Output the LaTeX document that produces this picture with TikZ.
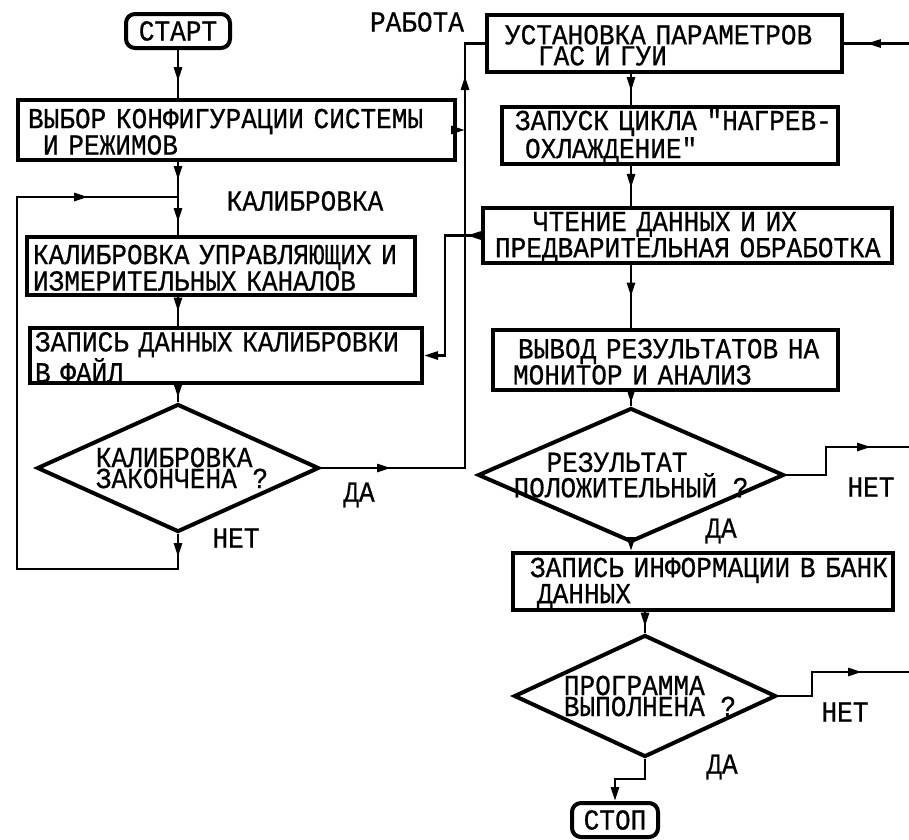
\documentclass[tikz,border=0pt]{standalone}
\usepackage{fontspec}
\setmainfont{Liberation Mono}[FakeStretch=0.9,FakeBold=0.6,Ligatures=TeXOff]
\usetikzlibrary{arrows.meta,shapes.geometric,decorations.markings}
\tikzset{
  blok/.style={draw, line width=4pt, inner sep=0pt, align=left, execute at begin node={\rule{0pt}{23pt}}},
  romb/.style={draw, diamond, line width=4pt, inner sep=-8pt, align=left, aspect=2.2},
  term/.style={draw, line width=4pt, rounded corners=9pt, inner sep=0pt},
  lin/.style={line width=2.6pt},
  pil/.style={postaction={decorate,decoration={markings,mark=at position #1 with {\arrow{>}}}}},
  pil/.default=0.6
}
\newcommand{\ot}[1]{\hspace*{#1pt}}
\begin{document}
\begin{tikzpicture}[x=1pt,y=-1pt,font=\fontsize{29}{21}\selectfont,>={Triangle[length=14pt,width=8pt]}]
  \useasboundingbox (0,0) rectangle (909,839);
  \coordinate (cL) at (178,0);
  \coordinate (cR) at (631,0);
  \coordinate (xV) at (465,0);
  \coordinate (xW) at (445,0);
  \coordinate (rand) at (909,0);
  \coordinate (J) at (178,197);
  \coordinate (n2) at (909,447);
  \coordinate (n3) at (909,672);
  \node[term, minimum width=104pt, minimum height=34pt] (S) at (178,31) {СТАРТ};
  \node[blok, text width=437pt, minimum height=60pt] (K) at (236.5,130) {\ot{10}ВЫБОР КОНФИГУРАЦИИ СИСТЕМЫ\\\ot{25}И РЕЖИМОВ};
  \node[blok, text width=388pt, minimum height=58pt] (C) at (221,266) {\ot{6}КАЛИБРОВКА УПРАВЛЯЮЩИХ И\\\ot{6}ИЗМЕРИТЕЛЬНЫХ КАНАЛОВ};
  \node[blok, text width=392pt, minimum height=55pt] (F) at (226,355.5) {\ot{5}ЗАПИСЬ ДАННЫХ КАЛИБРОВКИ\\\ot{5}В ФАЙЛ};
  \node[romb, minimum width=282pt, minimum height=128pt] (D1) at (178,468) {\ot{8}КАЛИБРОВКА\\\ot{8}ЗАКОНЧЕНА ?};
  \node[blok, text width=355pt, minimum height=57pt] (U) at (664.5,43.5) {\ot{18}УСТАНОВКА ПАРАМЕТРОВ\\\ot{51}ГАС И ГУИ};
  \node[blok, text width=336pt, minimum height=55pt] (Z) at (670,135.5) {\ot{13}ЗАПУСК ЦИКЛА "НАГРЕВ-\\\ot{23}ОХЛАЖДЕНИЕ"};
  \node[blok, text width=409pt, minimum height=55pt] (R) at (687.5,235.5) {\ot{50}ЧТЕНИЕ ДАННЫХ И ИХ\\\ot{12}ПРЕДВАРИТЕЛЬНАЯ ОБРАБОТКА};
  \node[blok, text width=345pt, minimum height=60pt] (M) at (665.5,360) {\ot{25}ВЫВОД РЕЗУЛЬТАТОВ НА\\\ot{20}МОНИТОР И АНАЛИЗ};
  \node[romb, minimum width=306pt, minimum height=134pt] (D2) at (631,475) {\ot{33}РЕЗУЛЬТАТ\\ПОЛОЖИТЕЛЬНЫЙ ?};
  \node[blok, text width=380pt, minimum height=57pt] (B) at (703,581.5) {\ot{17}ЗАПИСЬ ИНФОРМАЦИИ В БАНК\\\ot{24}ДАННЫХ};
  \node[romb, minimum width=262pt, minimum height=122pt] (D3) at (645,696) {\ot{10}ПРОГРАММА\\\ot{10}ВЫПОЛНЕНА ?};
  \node[term, minimum width=86pt, minimum height=34pt] (E) at (615,820) {СТОП};
  \node (lRab) at (417,22) {РАБОТА};
  \node (lKal) at (305,201) {КАЛИБРОВКА};
  \node (lDa1) at (359,495) {ДА};
  \node (lNet1) at (236,538) {НЕТ};
  \node (lDa2) at (721,531) {ДА};
  \node (lNet2) at (871,487) {НЕТ};
  \node (lNet3) at (845,712) {НЕТ};
  \node (lDa3) at (722,767) {ДА};
  \draw[lin,pil=0.65] (S.south) -- (K.north -| S.south);
  \draw[lin,pil=18pt,pil=60pt] (K.south -| cL) -- (C.north -| cL);
  \draw[lin,pil=0.5] (C.south -| cL) -- (F.north -| cL);
  \draw[lin,pil=0.75] (F.south -| cL) -- (D1.north);
  \draw[lin,pil=23pt,pil=639pt] (D1.south) -- ++(0,35) -- ++(-161,0) |- (J);
  \draw[lin,pil=70pt,pil=536pt] (D1.east) -- (xV |- D1.east) -- (xV |- U.west) -- (U.west);
  \draw[lin,->] (K.east) -- (xV |- K.east);
  \draw[lin,{>}-{>}] (R.west) -- (xW |- R.west) -- (xW |- F.east) -- (F.east);
  \draw[lin,pil=0.65] (rand |- U.east) -- (U.east);
  \draw[lin,pil=0.55] (U.south -| cR) -- (Z.north -| cR);
  \draw[lin,pil=0.55] (Z.south -| cR) -- (R.north -| cR);
  \draw[lin,pil=0.5] (R.south -| cR) -- (M.north -| cR);
  \draw[lin,pil=0.8] (M.south -| cR) -- (D2.north);
  \draw[lin,->] (D2.south) -- (B.north -| D2.south);
  \draw[lin,pil=113pt] (D2.east) -- ++(40,0) |- (n2);
  \draw[lin,pil=0.7] (B.south -| D3.north) -- (D3.north);
  \draw[lin,pil=108pt] (D3.east) -- ++(34,0) |- (n3);
  \draw[lin,->] (D3.south) -- ++(0,20) -| (E.north);
\end{tikzpicture}
\end{document}
